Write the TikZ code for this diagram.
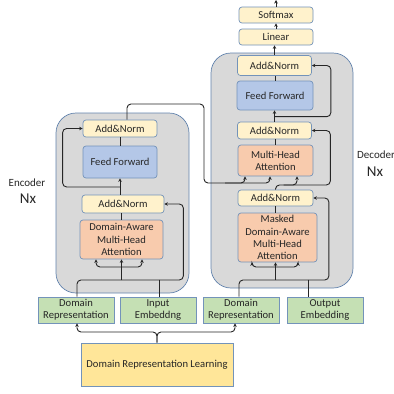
\documentclass[tikz,border=0pt]{standalone}
\usepackage{fontspec}
\setmainfont{Carlito}
\usetikzlibrary{arrows.meta,calc}
\definecolor{panelfill}{HTML}{D9D9D9}
\definecolor{panelc}{HTML}{6283AD}
\definecolor{bordc}{HTML}{7393BA}
\definecolor{anfill}{HTML}{FFF2CC}
\definecolor{fffill}{HTML}{B4C7E7}
\definecolor{mhafill}{HTML}{F8CBAD}
\definecolor{embfill}{HTML}{C5E0B4}
\definecolor{drlfill}{HTML}{FFE699}
\definecolor{txt}{HTML}{262626}
\begin{document}
\begin{tikzpicture}[x=1pt,y=-1pt,
  box/.style={draw=bordc, line width=0.7pt, rounded corners=3pt, inner sep=1pt, align=center,
    font=\fontsize{10.6}{12.2}\selectfont, text=txt},
  anbox/.style={box, fill=anfill},
  ffbox/.style={box, fill=fffill},
  mhabox/.style={box, fill=mhafill},
  embbox/.style={box, fill=embfill, rounded corners=0pt},
  drlbox/.style={box, fill=drlfill, rounded corners=0pt},
  panel/.style={draw=panelc, fill=panelfill, rounded corners=20pt, line width=0.7pt},
  conn/.style={line width=0.9pt, draw=black!85, rounded corners=4pt},
  arr/.style={conn, -{Stealth[length=3.5pt,width=3.5pt]}},
  lab/.style={text=txt, inner sep=0pt}]
\fill[white] (0,0) rectangle (394,394);
\useasboundingbox (0,0) rectangle (394,394);

% panels
\draw[panel] (56,113) rectangle (189,293);
\draw[panel] (211,53) rectangle (353,288);

% encoder
\node[anbox, minimum width=74pt, minimum height=17pt] (ean1) at (120,128.5) {Add\&Norm};
\node[ffbox, minimum width=74pt, minimum height=32pt] (eff) at (120,162) {Feed Forward};
\node[anbox, minimum width=82pt, minimum height=18pt] (ean2) at (123,204) {Add\&Norm};
\node[mhabox, minimum width=83pt, minimum height=39pt] (emha) at (121.5,239.5) {Domain-Aware\\Multi-Head\\Attention};

% decoder
\node[anbox, minimum width=74pt, minimum height=16pt] (softmax) at (276,15) {Softmax};
\node[anbox, minimum width=74pt, minimum height=16pt] (linear) at (276,37) {Linear};
\node[anbox, minimum width=74pt, minimum height=20pt] (dan1) at (274.5,65.5) {Add\&Norm};
\node[ffbox, minimum width=76pt, minimum height=29pt] (dff) at (275,95.5) {Feed Forward};
\node[anbox, minimum width=74pt, minimum height=17pt] (dan2) at (274.5,130.5) {Add\&Norm};
\node[mhabox, minimum width=75pt, minimum height=31pt] (dmha) at (275.5,160.5) {Multi-Head\\Attention};
\node[anbox, minimum width=75pt, minimum height=16pt] (dan3) at (275.5,198) {Add\&Norm};
\node[mhabox, minimum width=79pt, minimum height=49pt] (dmmha) at (277.5,237.5) {Masked\\Domain-Aware\\Multi-Head\\Attention};

% bottom
\node[embbox, minimum width=76pt, minimum height=26pt] (dr1) at (76,310) {Domain\\Representation};
\node[embbox, minimum width=76pt, minimum height=26pt] (ie) at (158,310) {Input\\Embeddng};
\node[embbox, minimum width=76pt, minimum height=26pt] (dr2) at (241,310) {Domain\\Representation};
\node[embbox, minimum width=76pt, minimum height=26pt] (oe) at (325,310) {Output\\Embedding};
\node[drlbox, minimum width=152pt, minimum height=43pt] (drl) at (157,364.5) {Domain Representation Learning};

% labels
\node[lab, font=\fontsize{11}{13}\selectfont] (enclab) at (27,183) {Encoder};
\node[lab, font=\fontsize{15}{17}\selectfont] (encn) at (28,198.5) {Nx};
\node[lab, font=\fontsize{11}{13}\selectfont, anchor=west] (declab) at (357,155) {Decoder};
\node[lab, font=\fontsize{15}{17}\selectfont] (decn) at (375,172) {Nx};

% coordinates
\coordinate (ej) at (121.5,280);
\coordinate (ejr) at (159,280);
\coordinate (ep) at (121.5,267);
\coordinate (erl) at (120,187);
\coordinate (eoA) at (204,104);
\coordinate (eoB) at (204,183);
\coordinate (eoC) at (225,183);
\coordinate (dj) at (275.5,280);
\coordinate (djr) at (308,280);
\coordinate (dp) at (275.5,267);
\coordinate (dq) at (275.5,185);
\coordinate (lj) at (157,332);
\coordinate (out) at (276,0);

% DRL fork
\draw[arr] (drl.north) -- (lj) -| ($(dr1.south)+(1,0)$);
\draw[arr] (drl.north) -- (lj) -| ($(dr2.south)+(-6,0)$);

% encoder connectors
\draw[conn] ($(dr1.north)+(1,0)$) |- (ejr);
\draw[conn] ($(ie.north)+(1,0)$) -- (ejr);
\draw[arr] (ej) -- (ej |- emha.south);
\draw[arr] (ep) -| ($(emha.south)+(-25.5,0)$);
\draw[arr] (ep) -| ($(emha.south)+(20.5,0)$);
\draw[arr] (ejr) -| ($(ean2.east)+(19,0)$) -- (ean2.east);
\draw[conn] (emha.north) -- (emha.north |- ean2.south);
\draw[arr] (ean2.north -| eff.south) -- (eff.south);
\draw[conn] (eff.north) -- (ean1.south);
\draw[arr] (erl) -| ($(ean1.west)+(-20,0)$) -- (ean1.west);
\draw[arr] ($(ean1.north)+(7,0)$) |- (eoA) -- (eoB) -| ($(dmha.south)+(-5.5,0)$);
\draw[arr] (eoC) -| ($(dmha.south)+(-30.5,0)$);

% decoder connectors
\draw[conn] ($(dr2.north)+(-2,0)$) |- (djr);
\draw[conn] ($(oe.north)+(-17,0)$) -- (djr);
\draw[arr] (dj) -- (dj |- dmmha.south);
\draw[arr] (dp) -| ($(dmmha.south)+(-25.5,0)$);
\draw[arr] (dp) -| ($(dmmha.south)+(20.5,0)$);
\draw[arr] (djr) -| ($(dan3.east)+(15.5,0)$) -- (dan3.east);
\draw[conn] (dan3.south) -- (dan3.south |- dmmha.north);
\draw[arr] (dan3.north) -- (dq) -| ($(dan2.east)+(18.5,0)$) -- (dan2.east);
\draw[arr] ($(dq)+(8,0)$) -| ($(dmha.south)+(21.5,0)$);
\draw[conn] (dmha.north) -- (dmha.north |- dan2.south);
\draw[arr] (dan2.north) -- (dan2.north |- dff.south);
\draw[arr] ($(dan2.north)+(0,-5)$) -| ($(dan1.east)+(19,0)$) -- (dan1.east);
\draw[conn] (dff.north) -- (dff.north |- dan1.south);
\draw[arr] (dan1.north) -- (dan1.north |- linear.south);
\draw[arr] (linear.north) -- (softmax.south);
\draw[arr] (softmax.north) -- (out);
\end{tikzpicture}
\end{document}
